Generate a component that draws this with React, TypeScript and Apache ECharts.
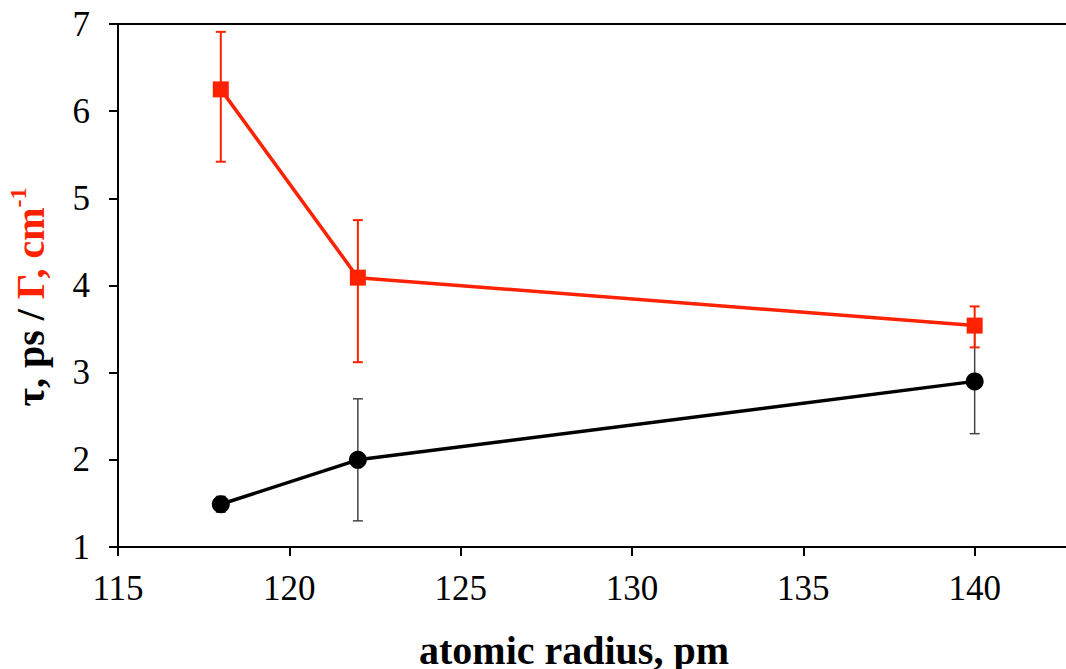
import React, { useEffect, useRef } from "react";
import * as echarts from "echarts";

const radius = [118, 122, 140];
const gammaValues = [6.25, 4.09, 3.54];
const gammaLow = [5.42, 3.12, 3.29];
const gammaHigh = [6.91, 4.75, 3.76];
const tauValues = [1.49, 2.0, 2.9];
const tauLow = [1.4, 1.3, 2.3];
const tauHigh = [1.58, 2.7, 3.5];
const xTicks = [115, 120, 125, 130, 135, 140];
const yTicks = [1, 2, 3, 4, 5, 6, 7];

const RED = "#ff2200";
const FONT = "Liberation Serif";

function errorSeries(low: number[], high: number[], color: string, width: number, z: number) {
  const data = radius.map((x, i) => [x, low[i], high[i]]);
  return {
    type: "custom",
    z,
    silent: true,
    data,
    renderItem: (params: any, api: any) => {
      const x = api.value(0);
      const lo = api.coord([x, api.value(1)]);
      const hi = api.coord([x, api.value(2)]);
      const cap = 5;
      const style = { stroke: color, lineWidth: width, fill: "none" };
      return {
        type: "group",
        children: [
          { type: "line", shape: { x1: lo[0], y1: lo[1], x2: hi[0], y2: hi[1] }, style },
          { type: "line", shape: { x1: hi[0] - cap, y1: hi[1], x2: hi[0] + cap, y2: hi[1] }, style },
          { type: "line", shape: { x1: lo[0] - cap, y1: lo[1], x2: lo[0] + cap, y2: lo[1] }, style },
        ],
      };
    },
  };
}

export default function App() {
  const ref = useRef<HTMLDivElement>(null);
  useEffect(() => {
    if (!ref.current) return;
    const chart = echarts.init(ref.current, undefined, { renderer: "svg" });
    chart.setOption({
      animation: false,
      backgroundColor: "#ffffff",
      textStyle: { fontFamily: FONT },
      grid: { left: 118, top: 24, bottom: 122, right: 14, containLabel: false, outerBoundsMode: "none" },
      xAxis: {
        type: "value",
        min: xTicks[0],
        max: 145,
        interval: 5,
        axisLine: { show: true, onZero: false, lineStyle: { color: "#000", width: 2 } },
        axisTick: { show: true, inside: false, length: 9, lineStyle: { color: "#000", width: 2 } },
        axisLabel: {
          color: "#000",
          fontSize: 35,
          fontFamily: FONT,
          margin: 24,
          formatter: (v: number) => (xTicks.includes(v) ? String(v) : ""),
        },
        splitLine: { show: false },
      },
      yAxis: {
        type: "value",
        min: yTicks[0],
        max: yTicks[yTicks.length - 1],
        interval: 1,
        axisLine: { show: true, lineStyle: { color: "#000", width: 2 } },
        axisTick: { show: true, inside: false, length: 9, lineStyle: { color: "#000", width: 2 } },
        axisLabel: { color: "#000", fontSize: 35, fontFamily: FONT, margin: 28 },
        splitLine: { show: false },
      },
      graphic: [
        {
          type: "line",
          shape: { x1: 118, y1: 24, x2: 1146, y2: 24 },
          style: { stroke: "#000", lineWidth: 2 },
        },
        {
          type: "text",
          x: 574,
          y: 650,
          style: {
            text: "atomic radius, pm",
            font: `bold 40px ${FONT}`,
            fill: "#000",
            align: "center",
            verticalAlign: "middle",
          },
        },
        {
          type: "text",
          x: 28,
          y: 297,
          rotation: Math.PI / 2,
          style: {
            text: "{b|τ, ps / }{r|Γ, cm}{s|-1}",
            align: "center",
            verticalAlign: "middle",
            rich: {
              b: { fontSize: 40, fontWeight: "bold", fill: "#000", color: "#000", fontFamily: FONT, verticalAlign: "bottom", lineHeight: 44 },
              r: { fontSize: 40, fontWeight: "bold", fill: RED, color: RED, fontFamily: FONT, verticalAlign: "bottom", lineHeight: 44 },
              s: { fontSize: 24, fontWeight: "bold", fill: RED, color: RED, fontFamily: FONT, verticalAlign: "top", lineHeight: 44, padding: [0, 0, 16, 0] },
            },
          },
        },
      ],
      series: [
        errorSeries(tauLow, tauHigh, "#444444", 1.5, 1),
        {
          type: "line",
          z: 2,
          data: radius.map((x, i) => [x, tauValues[i]]),
          symbol: "circle",
          symbolSize: 18,
          itemStyle: { color: "#000" },
          lineStyle: { color: "#000", width: 3.5 },
        },
        errorSeries(gammaLow, gammaHigh, RED, 2, 3),
        {
          type: "line",
          z: 4,
          data: radius.map((x, i) => [x, gammaValues[i]]),
          symbol: "rect",
          symbolSize: 16,
          itemStyle: { color: RED },
          lineStyle: { color: RED, width: 3.5 },
        },
      ],
    });
    return () => chart.dispose();
  }, []);
  return (
    <div style={{ position: "fixed", left: 0, top: 0, width: 1066, height: 669, overflow: "hidden", background: "#fff" }}>
      <div ref={ref} style={{ width: 1160, height: 669 }} />
    </div>
  );
}
